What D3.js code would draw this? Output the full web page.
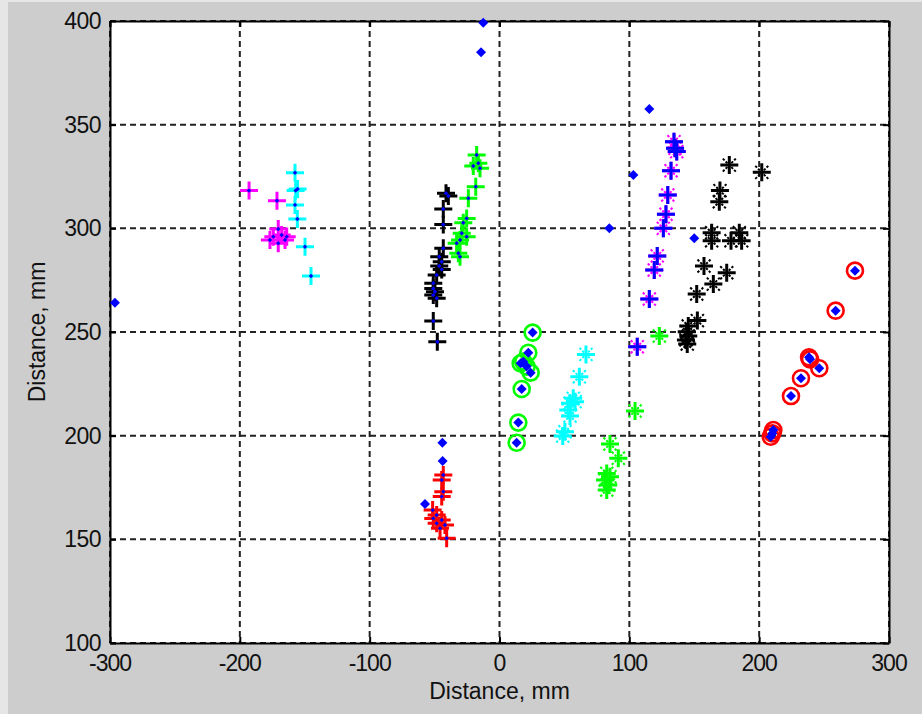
<!DOCTYPE html>
<html>
<head>
<meta charset="utf-8">
<script src="https://cdn.jsdelivr.net/npm/d3@7"></script>
<style>
  body { margin: 0; background: #cdcdcd; }
  svg { display: block; }
  .tick-label { font-family: "Liberation Sans", Arial, sans-serif; font-size: 23px; fill: #111; }
  .axis-title { font-family: "Liberation Sans", Arial, sans-serif; font-size: 23px; fill: #111; }
</style>
</head>
<body>
<div id="chart"></div>
<script>
// tick values
var xTicks = [-300, -200, -100, 0, 100, 200, 300];
var yTicks = [100, 150, 200, 250, 300, 350, 400];

// magenta + (with blue dot)
var magentaPlus = [[-192.9, 318.2], [-171.4, 313.3], [-170.4, 299.7], [-174.2, 296], [-167.8, 296.8],
  [-176.8, 294.4], [-163.9, 296], [-170.4, 292.8], [-165.2, 294.4]];
// cyan + (with blue dot)
var cyanPlus = [[-157.5, 326.8], [-157, 318.2], [-155.5, 319], [-157.5, 311.3], [-155.7, 304.5],
  [-149.8, 291.1], [-145.2, 277]];
// black + (with blue dot)
var blackPlus = [[-41.2, 316.9], [-39.4, 315.6], [-43.3, 309.3], [-43.3, 301.8], [-43.3, 290.4],
  [-46.4, 286.3], [-44.5, 283.9], [-46.4, 281.8], [-44.5, 280.2], [-48.4, 277.5], [-51, 273.5],
  [-51, 271], [-49.7, 269.4], [-51, 267.8], [-48.4, 266.3], [-51, 255.3], [-47.9, 245.3]];
// green + (with blue dot)
var greenPlus = [[-17.6, 335.4], [-16.3, 331.4], [-20.2, 330.1], [-15, 329], [-18.3, 320.1],
  [-24, 314.5], [-25.3, 304.8], [-27.9, 302.7], [-29.1, 297.6], [-25.3, 296], [-30.4, 294.4],
  [-33, 292.8], [-31.7, 288], [-30.4, 286.3]];
// red + (with blue dot)
var redPlus = [[-43.3, 181], [-44.5, 178.6], [-43.3, 173], [-44.5, 170.6], [-51.5, 164.1],
  [-48.4, 161.7], [-51, 160.1], [-44.5, 159.3], [-48.4, 157.7], [-42, 156.9], [-45.8, 155.3],
  [-40.7, 150.5]];
// green circles (with blue diamond)
var greenCircle = [[25.5, 249.7], [22.2, 240], [18.3, 235.7], [16.3, 234.9], [20.9, 233.3],
  [24, 230.4], [17.1, 222.5], [14.5, 206.3], [13.2, 196.6]];
// cyan *
var cyanStar = [[66.6, 239.2], [61.5, 228.4], [56.8, 218], [54.3, 215.6], [58.2, 216.4],
  [53, 212.4], [54.3, 209.5], [50.4, 201.9], [48.7, 199.8]];
// green *
var greenStar = [[85.1, 196], [91.5, 189.1], [82.6, 181.8], [85.1, 180.2], [81.3, 178.6],
  [83.8, 176.2], [82.6, 173.8], [104.4, 211.9], [123.1, 248.1]];
// magenta * with blue +
var magentaStar = [[134.4, 341.8], [135.2, 338.6], [136.5, 337], [132.1, 327.8], [129.6, 316.1],
  [128.2, 306.8], [126.2, 300], [121.5, 286.7], [119.2, 279.9], [115.4, 265.9], [106.1, 242.9]];
// black *
var blackStar = [[177, 330.5], [202, 327], [169.8, 318.2], [169.3, 312.8], [163.4, 297.9],
  [184.7, 297.9], [163.4, 294], [178.3, 294], [186.5, 294], [157.5, 281.8], [175, 278.6],
  [164.7, 273.1], [151.9, 268.3], [152.4, 255.5], [145.4, 252.9], [144.2, 250.1], [145.4, 248.1],
  [143.6, 246.2], [144.6, 244.2]];
// red circles (with blue diamond)
var redCircle = [[273.8, 279.6], [258.9, 260.3], [238.4, 237.8], [239.2, 236.8], [246.3, 232.5],
  [232.2, 227.7], [224.5, 219.1], [210.9, 202.7], [210.1, 201.1], [208.9, 199.5]];
// lone blue diamonds
var blueOnly = [[-296.2, 264.1], [-12.5, 399.2], [-14.2, 384.9], [-44, 196.6], [-43.8, 187.8],
  [-57.4, 167], [115.4, 357.6], [103.1, 325.7], [84.6, 300], [150, 295.2]];

var svgWidth = 922;
var svgHeight = 714;
var margin = { top: 21, right: 33, bottom: 71, left: 110 };
var chartWidth = svgWidth - margin.left - margin.right;
var chartHeight = svgHeight - margin.top - margin.bottom;

var svg = d3.select("#chart")
  .append("svg")
  .attr("width", svgWidth)
  .attr("height", svgHeight);

// window frame edges
svg.append("rect").attr("width", svgWidth).attr("height", svgHeight).attr("fill", "#cdcdcd");
svg.append("rect").attr("width", 8).attr("height", svgHeight).attr("fill", "#e6e6e6");
svg.append("rect").attr("width", svgWidth).attr("height", 2).attr("fill", "#e6e6e6");

var chartGroup = svg.append("g")
  .attr("transform", `translate(${margin.left}, ${margin.top})`);

var xScale = d3.scaleLinear().domain([-300, 300]).range([0, chartWidth]);
var yScale = d3.scaleLinear().domain([100, 400]).range([chartHeight, 0]);

chartGroup.append("rect")
  .attr("width", chartWidth)
  .attr("height", chartHeight)
  .attr("fill", "#fff");

// grid
chartGroup.selectAll(".vgrid")
  .data(xTicks)
  .enter()
  .append("line")
  .attr("x1", d => xScale(d)).attr("x2", d => xScale(d))
  .attr("y1", 0).attr("y2", chartHeight)
  .attr("stroke", "#222").attr("stroke-width", 2)
  .attr("stroke-dasharray", "6,4");

chartGroup.selectAll(".hgrid")
  .data(yTicks)
  .enter()
  .append("line")
  .attr("y1", d => yScale(d)).attr("y2", d => yScale(d))
  .attr("x1", 0).attr("x2", chartWidth)
  .attr("stroke", "#222").attr("stroke-width", 2)
  .attr("stroke-dasharray", "6,4");

// axes (inward ticks, labels drawn separately)
var bottomAxis = d3.axisBottom(xScale).tickValues(xTicks).tickSizeInner(-6).tickSizeOuter(0).tickFormat("");
var topAxis = d3.axisTop(xScale).tickValues(xTicks).tickSizeInner(-6).tickSizeOuter(0).tickFormat("");
var leftAxis = d3.axisLeft(yScale).tickValues(yTicks).tickSizeInner(-6).tickSizeOuter(0).tickFormat("");
var rightAxis = d3.axisRight(yScale).tickValues(yTicks).tickSizeInner(-6).tickSizeOuter(0).tickFormat("");

chartGroup.append("g").attr("transform", `translate(0, ${chartHeight})`).call(bottomAxis);
chartGroup.append("g").call(topAxis);
chartGroup.append("g").call(leftAxis);
chartGroup.append("g").attr("transform", `translate(${chartWidth}, 0)`).call(rightAxis);
chartGroup.selectAll(".domain, .tick line").attr("stroke", "#000").attr("stroke-width", 2);

chartGroup.selectAll(".xlab")
  .data(xTicks)
  .enter()
  .append("text")
  .attr("class", "tick-label")
  .attr("x", d => xScale(d))
  .attr("y", chartHeight + 28)
  .attr("text-anchor", "middle")
  .attr("letter-spacing", "-1")
  .text(d => d);

chartGroup.selectAll(".ylab")
  .data(yTicks)
  .enter()
  .append("text")
  .attr("class", "tick-label")
  .attr("x", -9)
  .attr("y", d => yScale(d) + 8)
  .attr("text-anchor", "end")
  .attr("letter-spacing", "-0.5")
  .text(d => d);

// marker shapes
function plusPath(h) {
  return `M${-h},0H${h}M0,${-h}V${h}`;
}
function crossPath(h) {
  return `M${-h},${-h}L${h},${h}M${-h},${h}L${h},${-h}`;
}
function diamondPath(h) {
  return `M0,${-h}L${h},0L0,${h}L${-h},0Z`;
}

function drawPlus(data, color) {
  chartGroup.append("g").selectAll("path")
    .data(data)
    .enter()
    .append("path")
    .attr("transform", d => `translate(${xScale(d[0])},${yScale(d[1])})`)
    .attr("d", plusPath(9))
    .attr("stroke", color).attr("stroke-width", 3).attr("fill", "none");
}

function drawStar(data, color) {
  var g = chartGroup.append("g");
  g.selectAll(".diag")
    .data(data)
    .enter()
    .append("path")
    .attr("transform", d => `translate(${xScale(d[0])},${yScale(d[1])})`)
    .attr("d", crossPath(6.5))
    .attr("stroke", color).attr("stroke-width", 2).attr("fill", "none")
    .attr("stroke-dasharray", "2.5,1.5");
  g.selectAll(".arm")
    .data(data)
    .enter()
    .append("path")
    .attr("transform", d => `translate(${xScale(d[0])},${yScale(d[1])})`)
    .attr("d", plusPath(9))
    .attr("stroke", color).attr("stroke-width", 3).attr("fill", "none");
}

function drawCircle(data, color) {
  chartGroup.append("g").selectAll("circle")
    .data(data)
    .enter()
    .append("circle")
    .attr("cx", d => xScale(d[0]))
    .attr("cy", d => yScale(d[1]))
    .attr("r", 8)
    .attr("stroke", color).attr("stroke-width", 2.6).attr("fill", "none");
}

function drawDiamond(data, h) {
  chartGroup.append("g").selectAll("path")
    .data(data)
    .enter()
    .append("path")
    .attr("transform", d => `translate(${xScale(d[0])},${yScale(d[1])})`)
    .attr("d", diamondPath(h))
    .attr("fill", "#0000ff");
}

drawPlus(magentaPlus, "#ff00ff");
drawPlus(cyanPlus, "#00ffff");
drawPlus(blackPlus, "#000");
drawPlus(greenPlus, "#00ff00");
drawPlus(redPlus, "#ff0000");
drawStar(cyanStar, "#00ffff");
drawStar(greenStar, "#00ff00");
drawStar(magentaStar, "#ff00ff");
drawPlus(magentaStar, "#0000ff");
drawStar(blackStar, "#000");
drawCircle(greenCircle, "#00ff00");
drawCircle(redCircle, "#ff0000");

drawDiamond(magentaPlus, 2.2);
drawDiamond(cyanPlus, 2.2);
drawDiamond(blackPlus, 2.2);
drawDiamond(greenPlus, 2.2);
drawDiamond(redPlus, 2.2);
drawDiamond(greenCircle, 5);
drawDiamond(redCircle, 5);
drawDiamond(blueOnly, 5);

// axis titles
svg.append("text")
  .attr("class", "axis-title")
  .attr("x", margin.left + chartWidth / 2)
  .attr("y", 699)
  .attr("text-anchor", "middle")
  .text("Distance, mm");

svg.append("text")
  .attr("class", "axis-title")
  .attr("transform", `translate(45, ${margin.top + chartHeight / 2}) rotate(-90)`)
  .attr("text-anchor", "middle")
  .text("Distance, mm");
</script>
</body>
</html>
